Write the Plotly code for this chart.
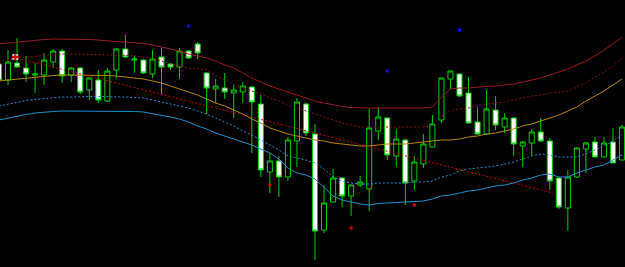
import plotly.graph_objects as go

# ---- candle data (price units) ----
bars = list(range(70))
open_ = [203,187,204,199,192,192,205,216,192,199,177,187,166,197,218,207,207,193,210,203,
         200,216,223,194,178,179,174,175,180,163,95,106,90,126,163,133,37,65,89,71,
         82,78,136,149,111,127,86,103,120,147,188,193,174,145,133,157,140,149,121,124,
         135,126,89,59,90,118,125,110,125,107]
high = [205,217,229,211,204,214,218,218,200,200,190,197,199,219,232,211,208,217,219,204,
        219,217,225,195,188,194,182,185,181,172,114,111,130,169,164,143,82,98,90,82,
        91,158,160,150,138,128,111,133,152,189,196,194,190,160,177,171,154,150,126,138,
        149,129,90,97,120,125,130,130,139,142]
low = [185,182,199,185,174,182,199,184,185,173,167,164,165,189,209,194,193,189,172,197,
       188,208,208,153,164,168,149,164,114,90,74,70,86,100,131,7,34,64,60,51,
       80,56,127,107,100,62,77,99,120,144,178,170,143,132,132,137,134,111,100,111,
       125,77,58,36,89,94,110,110,104,107]
close = [187,205,200,193,193,207,216,191,199,175,189,167,196,218,210,208,194,208,200,200,
         216,209,214,179,181,175,177,181,165,97,106,90,127,165,134,36,64,89,71,82,
         85,139,150,112,128,84,105,123,143,189,196,171,144,133,158,142,149,123,125,135,
         126,86,60,90,119,124,110,124,104,140]

# ---- envelope / band indicator lines ----
upper_solid = [223,224,225,226,227,227.5,228,228,228,228,227.5,227,226,225.5,225,224.5,223.5,222,220,218,
               216,213,211,209,206,202,199,194,189,185,181,178,175,172,169,166,164,162,160.5,159.5,
               159,159,159,159,159,159,159,159,160,170,178,179,179,180,180.5,181,182,183,185,187,
               189,192,195,198,202,206,211,217,223,230]
upper_dot = [206,207,209,210,211,212,212.5,213,213,213,213,212.5,212,212,212,211.5,210,209,206,203,
             201,199,198,197,192,187,183,179,176,173,169,166,162,159,156,153,150,147,144,142,
             140,140,140,140,140,140,140,140,141,151,156,158,159,161,163,164,165,167,169,171,
             172,174,175,176,180,184,190,195,201,209]
middle = [186,187,188,189,190,191,191.5,192,192,192,192,192,191.5,191,190,189,188,186,184,181,
          178,175,172,168,164,161,157,153,148,144,139,136,133,131,129,127,126,124,123,122,
          121,121,122,123,123,123,124,125,126,127,127,128,130,131,133,134,136,138,141,143,
          146,149,152,156,160,166,171,176,182,188]
lower_dot = [161,163,165,166.5,167.5,168.5,169,170,170,170.5,170.5,170.5,170.5,170,170,169.5,169,167,165,163,
             161,159,156,153,149,145,141,136,132,127,122,117,111,109,107,104,98,90,86,84,
             83,83,84,84,84,84,85,85,86,90,92,96,98,99,100,101,103,105,108,111,
             113,112,110,110,110,113,117,121,126,132]
lower_solid = [147,149,151,152.5,154,155,155.5,156,156,156,156,156,156,156,156,155.5,155,153.5,152,150,
               148,145,141,138,134,131,128,125,122,118,114,108,99,94,92,88,80,71,67,65,
               63,62,63.5,64,64.5,65,65,66,68,71,72,74,76,77,79,81,82,84,87,89,
               92,93,90,90,94,97,100,102,107,112]

# trend line (start/end bar, price)
trend_x = [2.0, 61.35]
trend_y = [209, 74]

# signal markers
blue_x = [21, 51, 43]
blue_y = [241, 237, 196]
red_x = [30, 39, 46]
red_y = [82, 39, 62]
flag_x = [1.8]
flag_y = [210]

n = len(bars)
for arr in (open_, high, low, close, upper_solid, upper_dot, middle, lower_dot, lower_solid):
    assert len(arr) == n, len(arr)

GREEN = "#00D000"
fig = go.Figure()

def line(y, color, dash=None, width=1):
    fig.add_trace(go.Scatter(x=bars, y=y, mode="lines",
                             line=dict(color=color, width=width, dash=dash),
                             hoverinfo="skip", showlegend=False))

line(upper_solid, "#961E1E")
line(upper_dot, "#8B0F0F", dash="2px,2px")
line(middle, "#B8860B")
line(lower_dot, "#1E90D8", dash="2px,2px")
line(lower_solid, "#1C8FD0")
fig.add_trace(go.Scatter(x=trend_x, y=trend_y, mode="lines",
                         line=dict(color="#CC0000", width=1, dash="2px,2px"),
                         hoverinfo="skip", showlegend=False))

fig.add_trace(go.Candlestick(
    x=bars, open=open_, high=high, low=low, close=close,
    increasing=dict(fillcolor="#000000", line=dict(color=GREEN, width=1)),
    decreasing=dict(fillcolor="#FFFFFF", line=dict(color=GREEN, width=1)),
    whiskerwidth=0, showlegend=False))

fig.add_trace(go.Scatter(x=blue_x, y=blue_y, mode="markers",
                         marker=dict(symbol="square", size=3, color="#1010E0"),
                         showlegend=False, hoverinfo="skip"))
fig.add_trace(go.Scatter(x=red_x, y=red_y, mode="markers",
                         marker=dict(symbol="square", size=3, color="#E00000"),
                         showlegend=False, hoverinfo="skip"))
fig.add_trace(go.Scatter(x=flag_x, y=flag_y, mode="markers",
                         marker=dict(symbol="square", size=6, color="#C8C8C8"),
                         showlegend=False, hoverinfo="skip"))
fig.add_trace(go.Scatter(x=flag_x, y=flag_y, mode="markers",
                         marker=dict(symbol="cross-thin", size=5, color="#E00000",
                                     line=dict(color="#E00000", width=2)),
                         showlegend=False, hoverinfo="skip"))

fig.update_layout(
    width=625, height=267,
    margin=dict(l=0, r=0, t=0, b=0),
    paper_bgcolor="#000000", plot_bgcolor="#000000",
    boxgap=0.2,
    xaxis=dict(range=[0.114, 69.33], visible=False, rangeslider=dict(visible=False),
               showgrid=False, zeroline=False),
    yaxis=dict(range=[0, 267], visible=False, showgrid=False, zeroline=False),
    showlegend=False,
)

fig.write_html("out.html")
